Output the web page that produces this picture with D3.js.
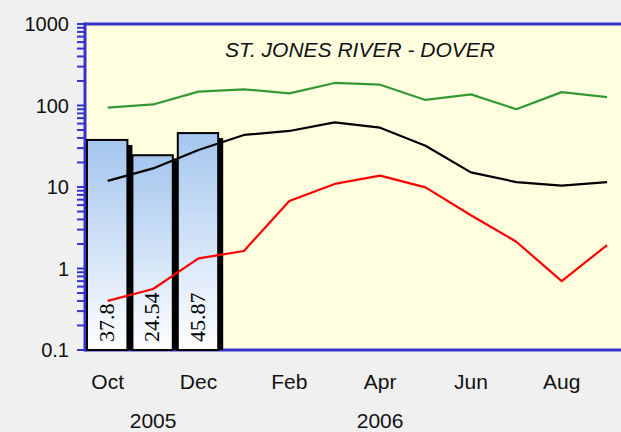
<!DOCTYPE html>
<html>
<head>
<meta charset="utf-8">
<script src="https://cdn.jsdelivr.net/npm/d3@7"></script>
<style>
  html, body { margin: 0; padding: 0; background: #f0f0f0; }
  svg { display: block; font-family: "Liberation Sans", Arial, sans-serif; }
</style>
</head>
<body>
<div id="chart"></div>
<script>
var width = 621;
var height = 432;

// data
var months = ["Oct", "Nov", "Dec", "Jan", "Feb", "Mar", "Apr", "May", "Jun", "Jul", "Aug", "Sep"];
var monthLabels = ["Oct", "Dec", "Feb", "Apr", "Jun", "Aug"];
var yearLabels = ["2005", "2006"];
var yearAnchors = ["Nov", "Apr"];
var yTickLabels = [0.1, 1, 10, 100, 1000];

var barMonths = ["Oct", "Nov", "Dec"];
var barValues = [37.8, 24.54, 45.87];

var greenValues = [94, 103, 148, 158, 141, 189, 180, 117, 137, 90, 146, 127];
var blackValues = [11.9, 16.9, 28.4, 43.5, 48.7, 62.2, 53.4, 32.1, 15.1, 11.5, 10.4, 11.5];
var redValues = [0.40, 0.56, 1.33, 1.64, 6.73, 10.9, 13.8, 9.9, 4.5, 2.13, 0.70, 1.94];

var plotLeft = 85, plotTop = 24, plotBottom = 350, step = 45.4;
var axisColor = "#3434cc";

var svg = d3.select("#chart")
    .append("svg")
    .attr("width", width)
    .attr("height", height);

var defs = svg.append("defs");
var grad = defs.append("linearGradient")
    .attr("id", "barfill")
    .attr("x1", 0).attr("y1", 0).attr("x2", 0).attr("y2", 1);
grad.append("stop").attr("offset", "0%").attr("stop-color", "#a4c6ee");
grad.append("stop").attr("offset", "100%").attr("stop-color", "#ffffff");

var x = d3.scaleBand()
    .domain(months)
    .range([plotLeft, plotLeft + step * months.length])
    .padding(0);

var y = d3.scaleLog()
    .domain([0.1, 1000])
    .range([plotBottom, plotTop]);

// plot area
svg.append("rect")
    .attr("x", plotLeft)
    .attr("y", plotTop)
    .attr("width", step * months.length)
    .attr("height", plotBottom - plotTop)
    .attr("fill", "#ffffe0");

// y ticks (log, with minor ticks)
var ticks = y.ticks();
svg.append("g")
    .selectAll("line")
    .data(ticks)
    .enter().append("line")
    .attr("x1", plotLeft - 8)
    .attr("x2", plotLeft)
    .attr("y1", function(d){ return y(d); })
    .attr("y2", function(d){ return y(d); })
    .attr("stroke", axisColor)
    .attr("stroke-width", 2);

svg.append("g")
    .selectAll("text")
    .data(yTickLabels)
    .enter().append("text")
    .attr("x", 69)
    .attr("y", function(d){ return y(d); })
    .attr("dy", "0.35em")
    .attr("text-anchor", "end")
    .attr("font-size", 20)
    .attr("fill", "#111")
    .text(function(d){ return d; });

// axis lines
svg.append("line")
    .attr("x1", plotLeft).attr("x2", width)
    .attr("y1", plotTop).attr("y2", plotTop)
    .attr("stroke", axisColor).attr("stroke-width", 3);
svg.append("line")
    .attr("x1", plotLeft).attr("x2", width)
    .attr("y1", plotBottom).attr("y2", plotBottom)
    .attr("stroke", axisColor).attr("stroke-width", 3);
svg.append("line")
    .attr("x1", plotLeft).attr("x2", plotLeft)
    .attr("y1", plotTop - 1.5).attr("y2", plotBottom + 1.5)
    .attr("stroke", axisColor).attr("stroke-width", 3);

// bars with a shadow
var bars = svg.append("g");
bars.selectAll(".shadow")
    .data(barValues)
    .enter().append("rect")
    .attr("class", "shadow")
    .attr("x", function(d, i){ return x(barMonths[i]) + 6; })
    .attr("y", function(d){ return y(d) + 5; })
    .attr("width", x.bandwidth() - 4)
    .attr("height", function(d){ return plotBottom - y(d) - 5; })
    .attr("fill", "#000");

bars.selectAll(".bar")
    .data(barValues)
    .enter().append("rect")
    .attr("class", "bar")
    .attr("x", function(d, i){ return x(barMonths[i]) + 2; })
    .attr("y", function(d){ return y(d); })
    .attr("width", x.bandwidth() - 5)
    .attr("height", function(d){ return plotBottom - y(d); })
    .attr("fill", "url(#barfill)")
    .attr("stroke", "#000")
    .attr("stroke-width", 2);

// lines
var line = d3.line()
    .x(function(d, i){ return x(months[i]) + x.bandwidth() / 2; })
    .y(function(d){ return y(d); });

[[greenValues, "#339933"], [blackValues, "#000000"], [redValues, "#ff0000"]].forEach(function(s){
    svg.append("path")
        .datum(s[0])
        .attr("d", line)
        .attr("fill", "none")
        .attr("stroke", s[1])
        .attr("stroke-width", 2.2)
        .attr("stroke-linejoin", "round");
});

// bar value labels
bars.selectAll(".val")
    .data(barValues)
    .enter().append("text")
    .attr("class", "val")
    .attr("transform", function(d, i){
        return "translate(" + (x(barMonths[i]) + x.bandwidth() / 2 + 6) + "," + (plotBottom - 8) + ") rotate(-90)";
    })
    .attr("font-family", "'Liberation Serif', 'Times New Roman', serif")
    .attr("font-size", 22)
    .attr("fill", "#000")
    .text(function(d){ return d; });

// title
svg.append("text")
    .attr("x", 360)
    .attr("y", 57)
    .attr("text-anchor", "middle")
    .attr("font-size", 21)
    .attr("font-style", "italic")
    .attr("fill", "#111")
    .text("ST. JONES RIVER - DOVER");

// x labels
svg.append("g")
    .selectAll("text")
    .data(monthLabels)
    .enter().append("text")
    .attr("x", function(d){ return x(d) + x.bandwidth() / 2; })
    .attr("y", 389)
    .attr("text-anchor", "middle")
    .attr("font-size", 21)
    .attr("fill", "#111")
    .text(function(d){ return d; });

svg.append("g")
    .selectAll("text")
    .data(yearLabels)
    .enter().append("text")
    .attr("x", function(d, i){ return x(yearAnchors[i]) + x.bandwidth() / 2; })
    .attr("y", 428)
    .attr("text-anchor", "middle")
    .attr("font-size", 21)
    .attr("fill", "#111")
    .text(function(d){ return d; });
</script>
</body>
</html>
